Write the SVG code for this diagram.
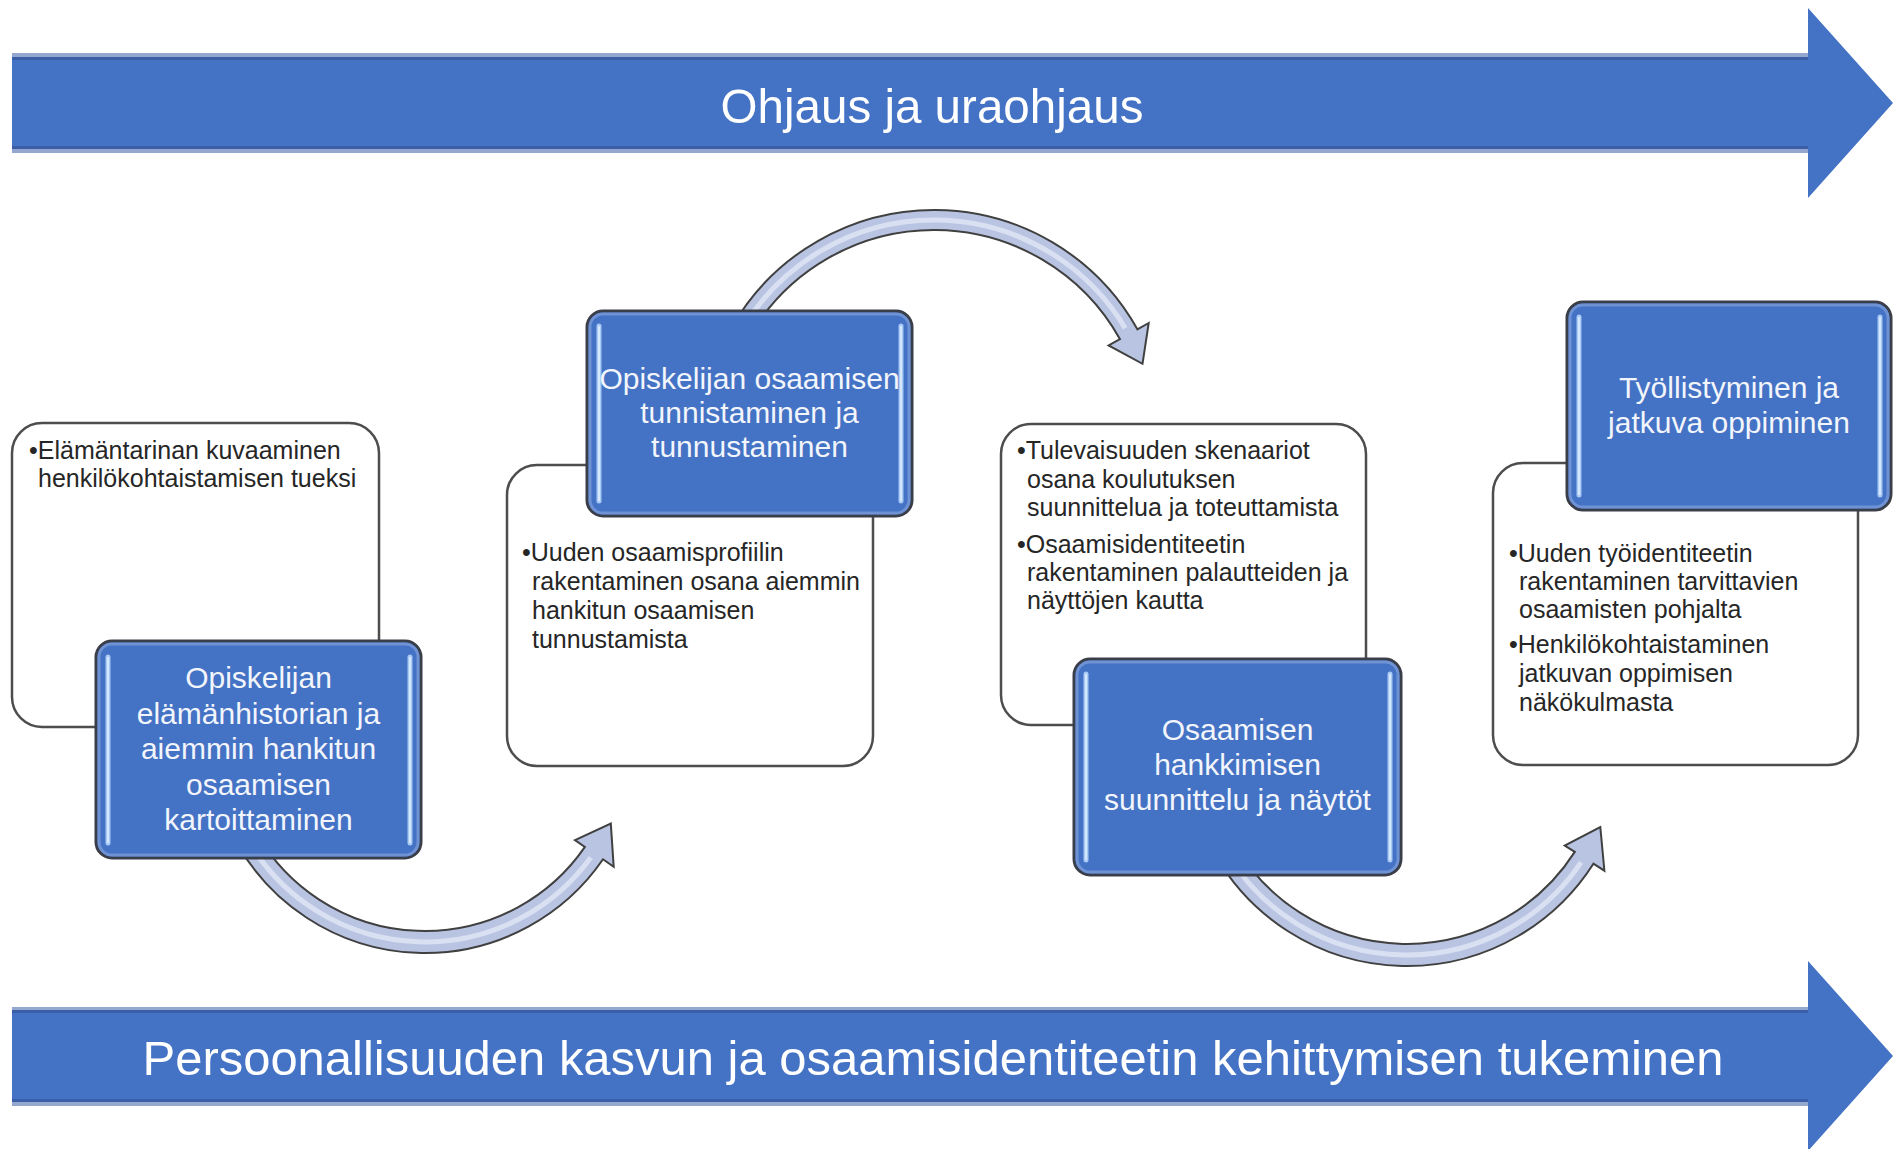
<svg xmlns="http://www.w3.org/2000/svg" width="1893" height="1149" viewBox="0 0 1893 1149">
<defs>
<style>
.banner { fill:#4472C4; }
.band-light { fill:#93A7CF; }
.band-dark { fill:#3A5FA6; }
.banner-text { font-family:"Liberation Sans", Arial, sans-serif; font-size:49px; fill:#FFFFFF; text-anchor:middle; }
.card { fill:#FFFFFF; stroke:#4D4D4D; stroke-width:2.5; }
.card-text { font-family:"Liberation Sans", Arial, sans-serif; font-size:25px; fill:#262626; }
.step { fill:#4472C4; stroke:#3A3E48; stroke-width:3; }
.step-rim { fill:none; stroke:#6F92D4; stroke-width:3; }
.step-hl { stroke:#A8CAF6; stroke-width:5; stroke-linecap:round; }
.step-hl-core { stroke:#E4F0FF; stroke-width:1.5; }
.step-text { font-family:"Liberation Sans", Arial, sans-serif; font-size:30px; fill:#F2F5FB; text-anchor:middle; }
.curve { fill:#B9C4E3; stroke:#404040; stroke-width:2; stroke-linejoin:miter; }
.curve-hl { fill:none; stroke:#D9E0F2; stroke-width:5; }
</style>
</defs>
<rect x="0" y="0" width="1893" height="1149" fill="#FFFFFF"/>

<g id="banner-top">
<path class="banner" d="M12,53 H1808 V8 L1893,103 L1808,198 V153 H12 Z"/>
<rect class="band-light" x="12" y="53" width="1796" height="4"/>
<rect class="band-dark" x="12" y="57" width="1796" height="3"/>
<rect class="band-dark" x="12" y="146" width="1796" height="3"/>
<rect class="band-light" x="12" y="149" width="1796" height="4"/>
<text class="banner-text" x="932" y="123" textLength="423" lengthAdjust="spacingAndGlyphs">Ohjaus ja uraohjaus</text>
</g>

<g id="banner-bottom">
<path class="banner" d="M12,1007 H1808 V961 L1893,1056 L1808,1151 V1106 H12 Z"/>
<rect class="band-light" x="12" y="1007" width="1796" height="3"/>
<rect class="band-dark" x="12" y="1010" width="1796" height="3"/>
<rect class="band-dark" x="12" y="1099" width="1796" height="3"/>
<rect class="band-light" x="12" y="1102" width="1796" height="4"/>
<text class="banner-text" x="933" y="1075" textLength="1581" lengthAdjust="spacingAndGlyphs">Persoonallisuuden kasvun ja osaamisidentiteetin kehittymisen tukeminen</text>
</g>

<g id="connectors">
<g id="arrow-1-2">
<path class="curve" d="M237.9,845 A216,216 0 0 0 603.0,859.3 L613.7,866.7 L610.8,823.6 L575.0,840.1 L584.9,846.9 A194,194 0 0 1 257.0,834 Z"/>
<path class="curve-hl" d="M251.2,845.6 A205,205 0 0 0 590.8,857.5"/>
</g>
<g id="arrow-2-3">
<path class="curve" d="M732.2,326.5 A233,233 0 0 1 1137.4,329.3 L1148.7,323.0 L1142.5,363.8 L1108.6,345.4 L1119.9,339.1 A213,213 0 0 0 749.5,336.5 Z"/>
<path class="curve-hl" d="M744.9,324.8 A223,223 0 0 1 1125.2,328.2"/>
</g>
<g id="arrow-3-4">
<path class="curve" d="M1215.6,855.5 A221,221 0 0 0 1593.4,863.7 L1604.4,870.7 L1600.3,827.0 L1564.7,845.5 L1574.8,851.9 A199,199 0 0 1 1234.7,844.5 Z"/>
<path class="curve-hl" d="M1228.9,856.3 A210,210 0 0 0 1581.1,862.4"/>
</g>
</g>

<g id="card-1">
<rect class="card" x="12" y="423" width="367" height="304" rx="30"/>
<text class="card-text" x="29" y="459">•Elämäntarinan kuvaaminen</text>
<text class="card-text" x="38" y="487">henkilökohtaistamisen tueksi</text>
</g>
<g id="step-1">
<rect class="step" x="96" y="641" width="325" height="217" rx="16"/>
<rect class="step-rim" x="99" y="644" width="319" height="211" rx="13"/>
<line class="step-hl" x1="108" y1="657" x2="108" y2="843"/>
<line class="step-hl-core" x1="108" y1="657" x2="108" y2="843"/>
<line class="step-hl" x1="410" y1="657" x2="410" y2="843"/>
<line class="step-hl-core" x1="410" y1="657" x2="410" y2="843"/>
<text class="step-text" x="258.5" y="688">Opiskelijan</text>
<text class="step-text" x="258.5" y="723.5">elämänhistorian ja</text>
<text class="step-text" x="258.5" y="759">aiemmin hankitun</text>
<text class="step-text" x="258.5" y="794.5">osaamisen</text>
<text class="step-text" x="258.5" y="830">kartoittaminen</text>
</g>

<g id="card-2">
<rect class="card" x="507" y="465" width="366" height="301" rx="30"/>
<text class="card-text" x="522" y="561">•Uuden osaamisprofiilin</text>
<text class="card-text" x="532" y="590">rakentaminen osana aiemmin</text>
<text class="card-text" x="532" y="619">hankitun osaamisen</text>
<text class="card-text" x="532" y="648">tunnustamista</text>
</g>
<g id="step-2">
<rect class="step" x="587" y="311" width="325" height="205" rx="16"/>
<rect class="step-rim" x="590" y="314" width="319" height="199" rx="13"/>
<line class="step-hl" x1="599" y1="326" x2="599" y2="501"/>
<line class="step-hl-core" x1="599" y1="326" x2="599" y2="501"/>
<line class="step-hl" x1="901" y1="326" x2="901" y2="501"/>
<line class="step-hl-core" x1="901" y1="326" x2="901" y2="501"/>
<text class="step-text" x="749.5" y="389">Opiskelijan osaamisen</text>
<text class="step-text" x="749.5" y="423">tunnistaminen ja</text>
<text class="step-text" x="749.5" y="457">tunnustaminen</text>
</g>

<g id="card-3">
<rect class="card" x="1001" y="424" width="365" height="301" rx="30"/>
<text class="card-text" x="1017" y="459">•Tulevaisuuden skenaariot</text>
<text class="card-text" x="1027" y="488">osana koulutuksen</text>
<text class="card-text" x="1027" y="516">suunnittelua ja toteuttamista</text>
<text class="card-text" x="1017" y="553">•Osaamisidentiteetin</text>
<text class="card-text" x="1027" y="581">rakentaminen palautteiden ja</text>
<text class="card-text" x="1027" y="609">näyttöjen kautta</text>
</g>
<g id="step-3">
<rect class="step" x="1074" y="659" width="327" height="216" rx="16"/>
<rect class="step-rim" x="1077" y="662" width="321" height="210" rx="13"/>
<line class="step-hl" x1="1086" y1="674" x2="1086" y2="860"/>
<line class="step-hl-core" x1="1086" y1="674" x2="1086" y2="860"/>
<line class="step-hl" x1="1390" y1="674" x2="1390" y2="860"/>
<line class="step-hl-core" x1="1390" y1="674" x2="1390" y2="860"/>
<text class="step-text" x="1237.5" y="740">Osaamisen</text>
<text class="step-text" x="1237.5" y="775">hankkimisen</text>
<text class="step-text" x="1237.5" y="810">suunnittelu ja näytöt</text>
</g>

<g id="card-4">
<rect class="card" x="1493" y="463" width="365" height="302" rx="30"/>
<text class="card-text" x="1509" y="562">•Uuden työidentiteetin</text>
<text class="card-text" x="1519" y="590">rakentaminen tarvittavien</text>
<text class="card-text" x="1519" y="618">osaamisten pohjalta</text>
<text class="card-text" x="1509" y="653">•Henkilökohtaistaminen</text>
<text class="card-text" x="1519" y="682">jatkuvan oppimisen</text>
<text class="card-text" x="1519" y="711">näkökulmasta</text>
</g>
<g id="step-4">
<rect class="step" x="1567" y="302" width="324" height="208" rx="16"/>
<rect class="step-rim" x="1570" y="305" width="318" height="202" rx="13"/>
<line class="step-hl" x1="1579" y1="317" x2="1579" y2="495"/>
<line class="step-hl-core" x1="1579" y1="317" x2="1579" y2="495"/>
<line class="step-hl" x1="1880" y1="317" x2="1880" y2="495"/>
<line class="step-hl-core" x1="1880" y1="317" x2="1880" y2="495"/>
<text class="step-text" x="1729" y="398">Työllistyminen ja</text>
<text class="step-text" x="1729" y="433">jatkuva oppiminen</text>
</g>
</svg>
